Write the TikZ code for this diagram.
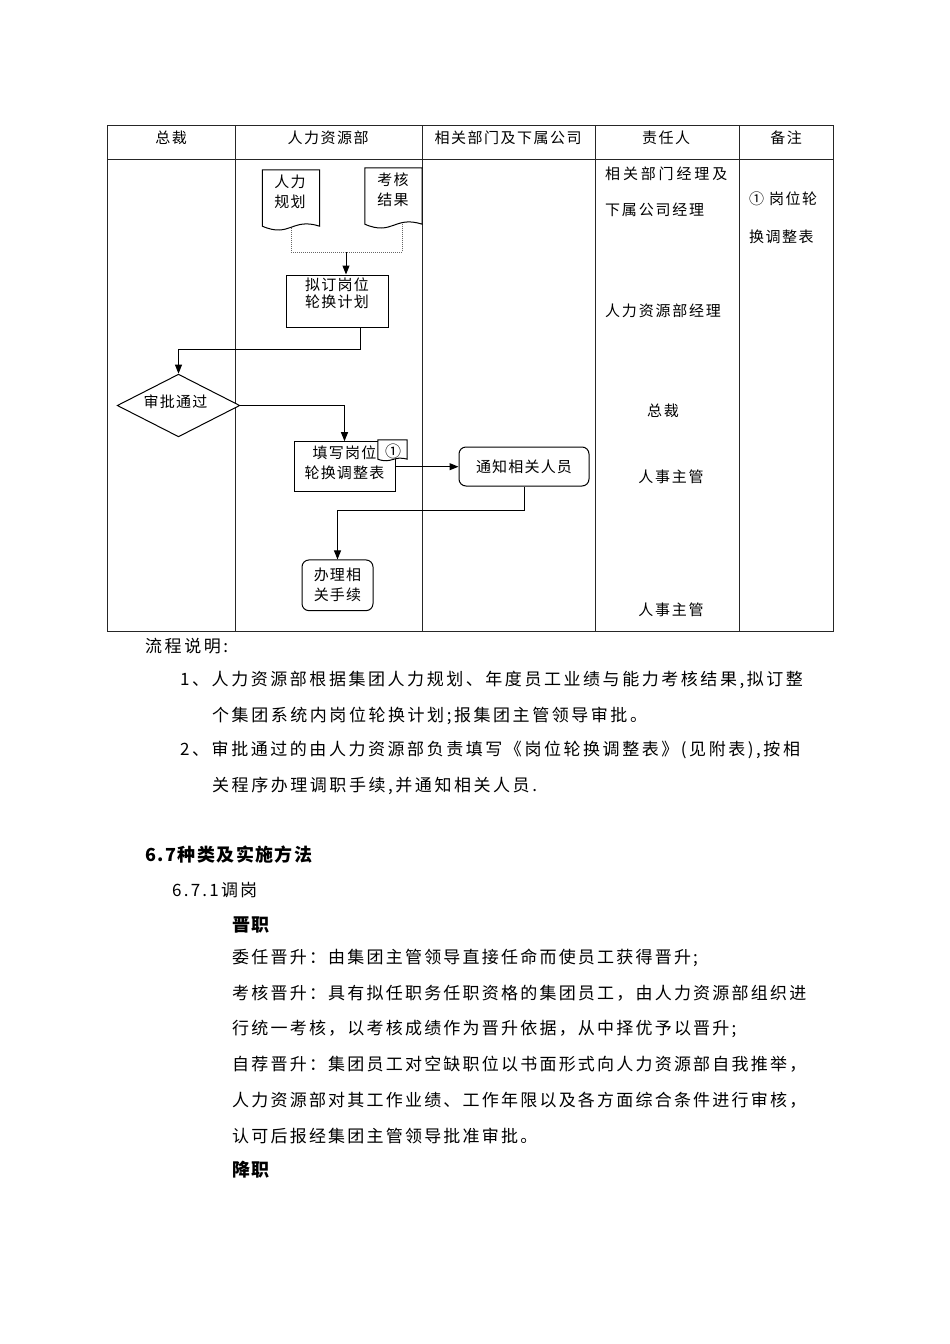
\documentclass[tikz,border=0pt]{standalone}
\usepackage{fontspec}
\setmainfont{Noto Sans CJK SC}
\newfontfamily\fA[LetterSpace=8]{Noto Sans CJK SC}
\newfontfamily\fH[LetterSpace=10]{Noto Sans CJK SC}
\newfontfamily\fC[LetterSpace=12]{Noto Sans CJK SC}
\newfontfamily\fD[LetterSpace=19]{Noto Sans CJK SC}
\newfontfamily\fB[LetterSpace=13]{Noto Sans CJK SC}
\newfontfamily\fP[LetterSpace=15]{Noto Sans CJK SC}
\newfontfamily\fK[LetterSpace=8]{Noto Sans CJK SC}
\usetikzlibrary{shapes.geometric,arrows.meta,calc}
\tikzset{
  tline/.style={draw=black!85, line width=0.8pt},
  fbox/.style={draw, line width=1pt, fill=white, inner sep=0pt},
  flow/.style={font=\fA\fontsize{15}{20}\selectfont, align=center, inner sep=0pt},
  arr/.style={line width=1pt, -{Triangle[length=9pt,width=7pt]}},
  dots/.style={densely dotted, line width=1pt, draw=black!60},
  hdr/.style={font=\fH\fontsize{15}{17}\selectfont, inner sep=0pt},
  cell/.style={font=\fC\fontsize{15}{17}\selectfont, inner sep=0pt, anchor=west},
  body/.style={font=\fB\fontsize{17}{19}\selectfont, inner sep=0pt, anchor=west},
  para/.style={font=\fP\fontsize{17}{19}\selectfont, inner sep=0pt, anchor=west},
  bhead/.style={font=\fK\bfseries\fontsize{18}{20}\selectfont, inner sep=0pt, anchor=west}
}
\begin{document}
\begin{tikzpicture}[x=1pt,y=-1pt]
\useasboundingbox (0,0) rectangle (950,1344);
\fill[white] (0,0) rectangle (950,1344);

% table
\draw[tline] (107,125) rectangle (833,631);
\draw[tline] (107,159) -- (833,159);
\foreach \x in {235,422,595,739} \draw[tline] (\x,125) -- (\x,631);

\node[hdr] (h-a) at (171,138) {总裁};
\node[hdr] (h-b) at (328,138) {人力资源部};
\node[hdr] (h-c) at (508,138) {相关部门及下属公司};
\node[hdr] (h-d) at (666,138) {责任人};
\node[hdr] (h-e) at (786,138) {备注};

% document shapes (areas)
\node[inner sep=0pt, minimum width=57pt, minimum height=56pt] (d1) at (291,198) {};
\node[inner sep=0pt, minimum width=57pt, minimum height=56pt] (d2) at (393.5,196) {};
\coordinate (jn) at (346,252);
\draw[dots] (d1.south) |- (jn) -| ([xshift=9pt]d2.south);
\foreach \d in {d1,d2}{
  \draw[line width=1pt, fill=white] (\d.north west) -- (\d.north east) -- (\d.south east)
     .. controls +(-28pt,9pt) and +(28pt,-12pt) .. (\d.south west) -- cycle;
}
\node[flow] (d1t) at (290,191.5) {人力\\规划};
\node[flow] (d2t) at (393,190) {考核\\结果};

% plan box
\node[fbox, minimum width=102pt, minimum height=52pt] (p1) at (337,301) {};
\node[flow, font=\fA\fontsize{15}{17}\selectfont] (p1t) at ([yshift=8pt]p1.center) {拟订岗位\\轮换计划};
\draw[arr] (jn) -- (jn |- p1.north);

% decision
\node[draw, line width=1pt, diamond, inner sep=0pt, minimum width=122.6pt, minimum height=62.7pt, fill=white] (dia) at (178.5,405.5) {};
\node[flow] (diat) at ([xshift=-3pt,yshift=4pt]dia.center) {审批通过};
\coordinate (k1) at (178.5,349);
\draw[arr] ([xshift=23pt]p1.south) |- (k1) -- (dia.north);

% fill form box
\node[fbox, minimum width=101pt, minimum height=50pt] (f1) at (344.5,466.7) {};
\node[flow] (f1t) at ([xshift=0pt,yshift=3.5pt]f1.center) {填写岗位\\轮换调整表};
\draw[arr] (dia.east) -| (f1.north);

% tag on fill form box
\node[inner sep=0pt, minimum width=29pt, minimum height=19pt] (tg) at (392.5,449.5) {};
\draw[line width=1pt, fill=white] (tg.north west) -- (tg.north east) -- (tg.south east)
   .. controls +(-14pt,4pt) and +(14pt,-5pt) .. (tg.south west) -- cycle;
\node[flow, font=\fontsize{16}{17}\selectfont] (tgt) at (393,451) {①};

% notify
\node[fbox, rounded corners=7pt, minimum width=130pt, minimum height=39pt] (n1) at (524,466.5) {};
\node[flow] (n1t) at (n1.center) {通知相关人员};
\draw[arr] (f1.east) -- (f1.east -| n1.west);

% handle
\node[fbox, rounded corners=7pt, minimum width=71pt, minimum height=50.7pt] (hd) at (337.5,585.3) {};
\node[flow] (hdt) at (hd.center) {办理相\\关手续};
\coordinate (k2) at (430,510.7);
\draw[arr] (n1.south) |- (k2) -| (hd.north);

% responsible column
\node[cell, font=\fD\fontsize{15}{17}\selectfont] (r1) at (605,174) {相关部门经理及};
\node[cell] (r2) at (605,210) {下属公司经理};
\node[cell] (r3) at (605,311) {人力资源部经理};
\node[cell, anchor=center] (r4) at (663,411) {总裁};
\node[cell, anchor=center] (r5) at (671,477) {人事主管};
\node[cell, anchor=center] (r6) at (671,610) {人事主管};

% remark column
\node[hdr, anchor=west] (m1) at (749,199) {① 岗位轮};
\node[hdr, anchor=west] (m2) at (749,237) {换调整表};

% text below
\node[para] (t0) at (145,646) {流程说明:};
\node[para] (t1) at (180,680) {1、人力资源部根据集团人力规划、年度员工业绩与能力考核结果,拟订整};
\node[para] (t2) at (212,716) {个集团系统内岗位轮换计划;报集团主管领导审批。};
\node[para] (t3) at (180,750) {2、审批通过的由人力资源部负责填写《岗位轮换调整表》(见附表),按相};
\node[para] (t4) at (212,786) {关程序办理调职手续,并通知相关人员.};

\node[bhead] (s1) at (145,855) {6.7种类及实施方法};
\node[body] (s2) at (172,890) {6.7.1调岗};
\node[bhead] (s3) at (232,925) {晋职};
\node[body] (b1) at (232,958) {委任晋升：由集团主管领导直接任命而使员工获得晋升;};
\node[body] (b2) at (232,993.5) {考核晋升：具有拟任职务任职资格的集团员工，由人力资源部组织进};
\node[body] (b3) at (232,1029) {行统一考核，以考核成绩作为晋升依据，从中择优予以晋升;};
\node[body] (b4) at (232,1064.5) {自荐晋升：集团员工对空缺职位以书面形式向人力资源部自我推举，};
\node[body] (b5) at (232,1100) {人力资源部对其工作业绩、工作年限以及各方面综合条件进行审核，};
\node[body] (b6) at (232,1135.5) {认可后报经集团主管领导批准审批。};
\node[bhead] (s4) at (232,1170) {降职};
\end{tikzpicture}
\end{document}
